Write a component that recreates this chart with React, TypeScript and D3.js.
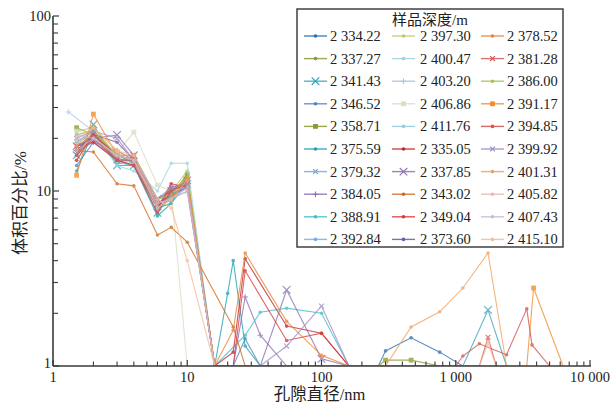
import React from "react";
import * as d3 from "d3";

const depths = [
  "2 334.22", "2 337.27", "2 341.43", "2 346.52", "2 358.71", "2 375.59", "2 379.32", "2 384.05", "2 388.91", "2 392.84",
  "2 397.30", "2 400.47", "2 403.20", "2 406.86", "2 411.76", "2 335.05", "2 337.85", "2 343.02", "2 349.04", "2 373.60",
  "2 378.52", "2 381.28", "2 386.00", "2 391.17", "2 394.85", "2 399.92", "2 401.31", "2 405.82", "2 407.43", "2 415.10",
];

const clusterDiameters = [1.3, 1.5, 2, 3, 4, 6, 7.6, 10];

const clusterValues: (number | null)[][] = [
  [null, 17, 20, 15, 15, 8.5, 9, 11],
  [null, 19, 22, 16, 14.5, 8, 8.5, 12.5],
  [null, 16, 24, 14, 14, 7.5, 9.5, 11],
  [null, 14, 19, 15, 15.5, 8, 9, 10.5],
  [null, 23, 21, 16, 15, 8.2, 9.5, 12.5],
  [null, 13, 22, 15, 14, 7.2, 8.5, 12],
  [null, 16, 21, 15.5, 14.5, 8.5, 9, 10],
  [null, 17, 19, 17, 15, 8, 10, 11.5],
  [null, 18, 20, 14.5, 14, 8, 8.5, 11],
  [null, 17, 21, 16, 15, 9, 9.5, 11],
  [null, 22, 23, 16, 16, 9, 10, 13],
  [null, 19, 21, 14, 13, 10, 14.4, 14.4],
  [28.3, null, 22, 15, 14, 8.5, 9, 10.5],
  [null, 22, 21, 16.5, 21.7, 10.8, 10, 0],
  [null, 20, 20, 15, 14.5, 8.5, 9, 11],
  [null, 15, 21, 16, 15, 8, 11, 10.5],
  [null, 18, 20, 20.9, 16, 9, 10, 11.5],
  [null, 17, 16.7, 11, 10.7, 5.6, 6.2, 5.1],
  [null, 18, 19, 15, 14, 8, 10.5, 11],
  [null, 17, 21, 19, 15, 8.5, 9.5, 10.5],
  [null, 16, 22, 16, 15, 8, 9, 12],
  [null, 18, 21, 15, 15, 8, 10, 11],
  [null, 21, 22, 16, 15, 9, 9.5, 12],
  [null, 12.3, 27.5, 16, 16, 8, 9, 11.5],
  [null, 16, 20, 15, 14, 7.5, 10, 11],
  [null, 20, 22, 20, 15, 9, 10.5, 11],
  [null, 18, 23, 17, 15, 8, 9, 11.5],
  [null, 17, 20, 16, 15, 8.5, 9, 10],
  [null, 21, 20, 16, 15, 8, 9, 10.5],
  [null, 20, 23, 17, 16, 9, 8, 4],
];

const tailPoints: [number, number][][] = [
  [[16, 0], [265, 0], [300, 1.22], [465, 1.45], [760, 1.2], [1130, 0]],
  [[16, 0]],
  [[16, 0], [1130, 0], [1740, 2.09], [2390, 0]],
  [[16, 0], [22, 0], [27, 1.43], [35, 0]],
  [[16, 0], [265, 0], [300, 1.08], [465, 1.08], [760, 0]],
  [[16, 0], [20, 2.6], [22, 4.0], [27, 1.3], [35, 0]],
  [[16, 0]],
  [[16, 0], [22, 0], [27, 2.48], [35, 1.5], [55, 0]],
  [[16, 0], [27, 1.5], [35, 2.03], [55, 2.14], [100, 2.0], [160, 0]],
  [[16, 0]],
  [[16, 0]],
  [[16, 0]],
  [[16, 0]],
  [],
  [[16, 0]],
  [[16, 0], [22, 1.2], [27, 4.1], [55, 1.69], [100, 1.54], [160, 0]],
  [[16, 0], [35, 0], [55, 2.72], [100, 1.1], [160, 0]],
  [[22, 1.67], [27, 0]],
  [[16, 0], [22, 0], [27, 3.5], [55, 1.4], [100, 1.54], [160, 0]],
  [[16, 0]],
  [[16, 0], [22, 1.6], [27, 4.42], [55, 1.8], [100, 1.15], [160, 0]],
  [[16, 0], [1500, 0], [1740, 1.46], [2000, 0]],
  [[16, 0]],
  [[16, 0], [3380, 0], [3800, 2.79], [6300, 0]],
  [[16, 0], [1000, 0], [1130, 1.14], [1500, 1.34], [2390, 1.16], [3380, 2.12], [3700, 1.32], [5000, 0]],
  [[16, 0], [35, 0], [55, 1.3], [100, 2.2], [160, 0]],
  [[16, 0], [300, 0], [465, 1.67], [760, 2.04], [1130, 2.79], [1740, 4.42], [2390, 0]],
  [[16, 0]],
  [[16, 0]],
  [[16, 0], [1500, 0], [1740, 1.35], [2000, 0]],
];

const xTickLabels = ["1", "10", "100", "1 000", "10 000"];
const yTickLabels = ["1", "10", "100"];

const colors = [
  "#2c6fad", "#8a9a3b", "#3aa6b9", "#4f86bd", "#8c9a2e", "#22a0b0", "#7ea6d6", "#8f6bb5", "#3fbdc8", "#7aaee0",
  "#b6cf6e", "#9fd3df", "#aec3e0", "#d6dfc0", "#95cbdc", "#c0282d", "#8a72ad", "#d2691e", "#d8393a", "#6f5aa1",
  "#e8833a", "#d35c5c", "#a5c24a", "#f28c28", "#d65050", "#a08bc9", "#f3a15e", "#e2b9b9", "#c7b8d9", "#f6bc97",
];
const markers = [
  "o", "o", "X", "o", "s", "o", "x", "+", "o", "o",
  "o", "o", "+", "s", "o", "o", "X", "o", "o", "o",
  "o", "x", "o", "s", "o", "x", "o", "o", "o", "o",
];

const W = 615, H = 404;
const L = 53, R = 590, T = 16, B = 366;
const serif = "'Liberation Serif', 'Times New Roman', 'Noto Sans CJK SC', serif";

function Marker({ kind, x, y, color }: { kind: string; x: number; y: number; color: string }) {
  if (kind === "X" || kind === "x") {
    const s = kind === "X" ? 3.8 : 2.4;
    return (
      <path d={`M${x - s},${y - s}L${x + s},${y + s}M${x - s},${y + s}L${x + s},${y - s}`} stroke={color} strokeWidth={1.2} fill="none" />
    );
  }
  if (kind === "+") {
    const s = 2.8;
    return <path d={`M${x - s},${y}L${x + s},${y}M${x},${y - s}L${x},${y + s}`} stroke={color} strokeWidth={1.1} fill="none" />;
  }
  if (kind === "s") {
    const s = 2.4;
    return <rect x={x - s} y={y - s} width={2 * s} height={2 * s} fill={color} />;
  }
  return <circle cx={x} cy={y} r={1.8} fill={color} />;
}

export default function App() {
  const x = d3.scaleLog().domain([1, 10000]).range([L, R]);
  const y = d3.scaleLog().domain([1, 100]).range([B, T]);

  const series = depths.map((_, i) => {
    const pts: [number, number][] = [];
    clusterDiameters.forEach((d, j) => {
      const v = clusterValues[i][j];
      if (v !== null) pts.push([d, v]);
    });
    tailPoints[i].forEach((p) => pts.push(p));
    return pts;
  });

  const line = d3
    .line<[number, number]>()
    .x((p) => x(p[0]))
    .y((p) => y(Math.max(p[1], 1)));

  const xMinor: number[] = [];
  for (let e = 0; e < 4; e++) for (let k = 2; k <= 9; k++) xMinor.push(k * Math.pow(10, e));
  const yMinor: number[] = [];
  for (let e = 0; e < 2; e++) for (let k = 2; k <= 9; k++) yMinor.push(k * Math.pow(10, e));

  const axisColor = "#3a3a3a";
  const legX = 297, legY = 9, legW = 266, legH = 238;
  const rowY0 = 36, rowDy = 22.6;
  const colLineX = [304, 392, 481];
  const colTextX = [330, 420, 507];

  return (
    <svg width={W} height={H} style={{ position: "absolute", left: 0, top: 0, background: "#fff" }}>
      <rect x={0} y={0} width={W} height={H} fill="#fff" />
      <defs>
        <clipPath id="plot">
          <rect x={L} y={T - 2} width={R - L + 2} height={B - T + 2} />
        </clipPath>
      </defs>
      <g clipPath="url(#plot)">
        {series.map((pts, i) => (
          <g key={i} opacity={0.78}>
            <path d={line(pts) || ""} fill="none" stroke={colors[i]} strokeWidth={1.1} />
            {pts
              .filter((p) => p[1] >= 1)
              .map((p, j) => (
                <Marker key={j} kind={markers[i]} x={x(p[0])} y={y(p[1])} color={colors[i]} />
              ))}
          </g>
        ))}
      </g>

      {/* axes */}
      <line x1={L} y1={T} x2={L} y2={B} stroke={axisColor} strokeWidth={1.6} />
      <line x1={L} y1={B} x2={R + 1} y2={B} stroke={axisColor} strokeWidth={1.6} />
      {[1, 10, 100, 1000, 10000].map((v) => (
        <line key={"xm" + v} x1={x(v)} x2={x(v)} y1={B} y2={B - 6} stroke={axisColor} strokeWidth={1.2} />
      ))}
      {xMinor.map((v) => (
        <line key={"xn" + v} x1={x(v)} x2={x(v)} y1={B} y2={B - 4.5} stroke={axisColor} strokeWidth={1.1} />
      ))}
      {[1, 10, 100].map((v) => (
        <line key={"ym" + v} x1={L} x2={L + 6} y1={y(v)} y2={y(v)} stroke={axisColor} strokeWidth={1.2} />
      ))}
      {yMinor.map((v) => (
        <line key={"yn" + v} x1={L} x2={L + 5} y1={y(v)} y2={y(v)} stroke={axisColor} strokeWidth={1.1} />
      ))}
      {[1, 10, 100, 1000, 10000].map((v, i) => (
        <text key={"xl" + v} x={x(v)} y={B + 16} textAnchor="middle" fontFamily={serif} fontSize={14.5} fill="#222">
          {xTickLabels[i]}
        </text>
      ))}
      {[1, 10, 100].map((v, i) => (
        <text key={"yl" + v} x={L - 2} y={y(v) + (v === 1 ? 2 : 4.5)} textAnchor="end" fontFamily={serif} fontSize={14.5} fill="#222">
          {yTickLabels[i]}
        </text>
      ))}
      <text x={(L + R) / 2 - 2} y={400} textAnchor="middle" fontFamily={serif} fontSize={16.5} fill="#222">
        孔隙直径/nm
      </text>
      <text
        transform={`translate(26, ${(T + B) / 2 + 12}) rotate(-90)`}
        textAnchor="middle"
        fontFamily={serif}
        fontSize={17}
        fill="#222"
      >
        体积百分比/%
      </text>

      {/* legend */}
      <rect x={legX} y={legY} width={legW} height={legH} fill="#fff" stroke="#333" strokeWidth={1.4} />
      <text x={legX + legW / 2} y={legY + 16} textAnchor="middle" fontFamily={serif} fontSize={15} fill="#222">
        样品深度/m
      </text>
      {depths.map((d, i) => {
        const col = Math.floor(i / 10);
        const row = i % 10;
        const cy = rowY0 + row * rowDy;
        const lx = colLineX[col];
        return (
          <g key={"lg" + i}>
            <line x1={lx} x2={lx + 23} y1={cy} y2={cy} stroke={colors[i]} strokeWidth={1.4} opacity={0.85} />
            <Marker kind={markers[i]} x={lx + 11.5} y={cy} color={colors[i]} />
            <text x={colTextX[col]} y={cy + 5} fontFamily={serif} fontSize={14.5} fill="#222">
              {d}
            </text>
          </g>
        );
      })}
    </svg>
  );
}
